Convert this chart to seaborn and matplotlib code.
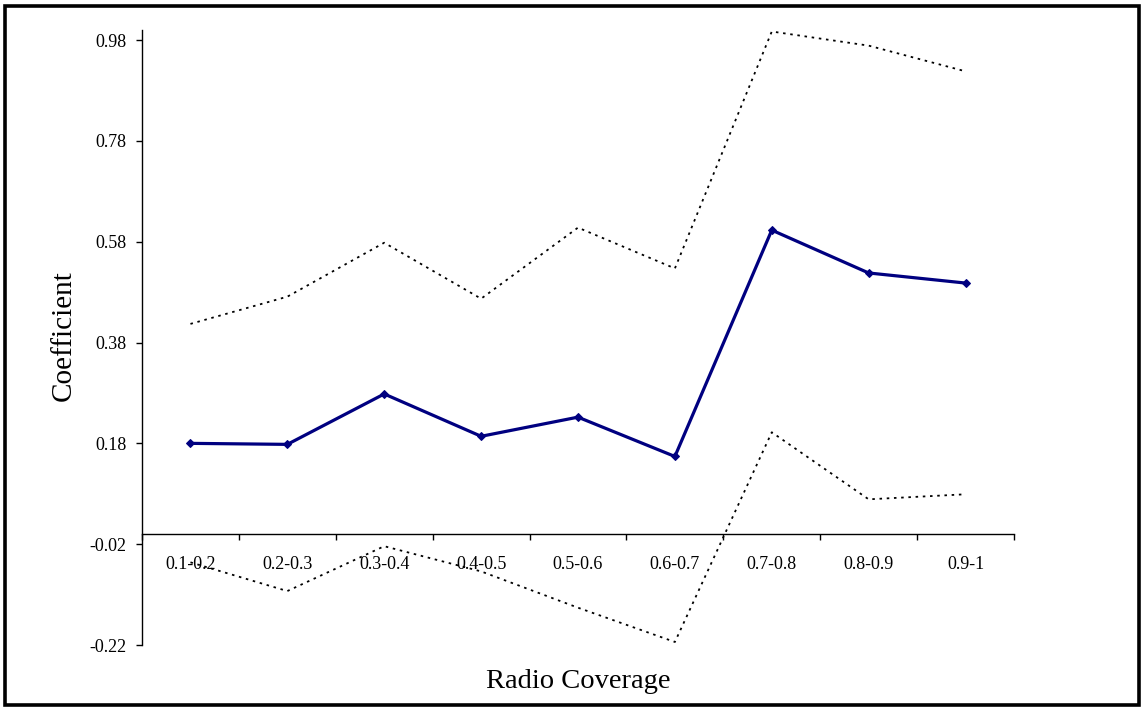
import matplotlib
matplotlib.use("Agg")
import matplotlib.pyplot as plt
from matplotlib.patches import Rectangle
from matplotlib.ticker import FixedLocator, NullFormatter
import seaborn as sns
import pandas as pd

categories = ["0.1-0.2", "0.2-0.3", "0.3-0.4", "0.4-0.5", "0.5-0.6",
              "0.6-0.7", "0.7-0.8", "0.8-0.9", "0.9-1"]
coefficient = [0.180, 0.178, 0.278, 0.194, 0.232, 0.154, 0.603, 0.518, 0.498]
upper_bound = [0.417, 0.471, 0.578, 0.467, 0.608, 0.527, 0.997, 0.969, 0.918]
lower_bound = [-0.056, -0.113, -0.024, -0.074, -0.146, -0.214, 0.202, 0.069, 0.079]
y_ticks = [-0.22, -0.02, 0.18, 0.38, 0.58, 0.78, 0.98]

sns.set_theme(style="white")
plt.rcParams["font.family"] = ["Liberation Serif", "DejaVu Serif"]
plt.rcParams["axes.unicode_minus"] = False
plt.rcParams["text.color"] = "black"
plt.rcParams["xtick.color"] = "black"
plt.rcParams["ytick.color"] = "black"
plt.rcParams["xtick.labelcolor"] = "black"
plt.rcParams["ytick.labelcolor"] = "black"

df = pd.DataFrame({
    "coverage": categories,
    "coef": coefficient,
    "upper": upper_bound,
    "lower": lower_bound,
})

fig = plt.figure(figsize=(11.43, 7.09), dpi=100)
ax = fig.add_axes([142 / 1143, 1 - 645 / 709, (1014 - 142) / 1143, (645 - 30) / 709])

dot = (0, (1.4, 2.6))
sns.lineplot(data=df, x="coverage", y="upper", ax=ax, sort=False,
             color="black", linewidth=1.3, linestyle=dot)
sns.lineplot(data=df, x="coverage", y="lower", ax=ax, sort=False,
             color="black", linewidth=1.3, linestyle=dot)
sns.lineplot(data=df, x="coverage", y="coef", ax=ax, sort=False,
             color="#000080", linewidth=2.3, marker="D", markersize=4.5,
             markeredgecolor="#000080", markerfacecolor="#000080")

ax.set_xlim(-0.5, len(categories) - 0.5)
ax.set_ylim(-0.22, 1.0)

# Axis lines: vertical axis at the left, horizontal axis crossing at zero
ax.spines["top"].set_visible(False)
ax.spines["right"].set_visible(False)
ax.spines["bottom"].set_position(("data", 0))
for s in ("left", "bottom"):
    ax.spines[s].set_color("black")
    ax.spines[s].set_linewidth(1.0)

ax.set_yticks(y_ticks)
ax.set_yticklabels([f"{v:.2f}" for v in y_ticks])
ax.tick_params(axis="y", direction="out", length=4, width=1, color="black",
               pad=7, labelsize=13, left=True, labelcolor="black")

# Category labels centred, tick marks between categories
ax.set_xticks(range(len(categories)))
ax.set_xticklabels(categories)
ax.tick_params(axis="x", which="major", length=0, pad=16, labelsize=13,
               labelcolor="black")
ax.xaxis.set_minor_locator(FixedLocator([i - 0.5 for i in range(len(categories) + 1)]))
ax.xaxis.set_minor_formatter(NullFormatter())
ax.tick_params(axis="x", which="minor", direction="out", length=4, width=1,
               color="black", bottom=True)

ax.set_xlabel("")
ax.set_ylabel("")
fig.text(578 / 1143, 1 - 682 / 709, "Radio Coverage", fontsize=20.5,
         ha="center", va="center", color="black")
fig.text(64 / 1143, 1 - 336 / 709, "Coefficient", fontsize=21,
         ha="center", va="center", rotation=90, color="black")

ax.grid(False)
ax.set_facecolor("white")

# Chart frame
fig.patches.append(Rectangle((5 / 1143, 4 / 709), 1 - 9.5 / 1143, 1 - 9.5 / 709,
                             transform=fig.transFigure, fill=False,
                             edgecolor="black", linewidth=2.6))

fig.savefig("out.png", dpi=100, facecolor="white")
